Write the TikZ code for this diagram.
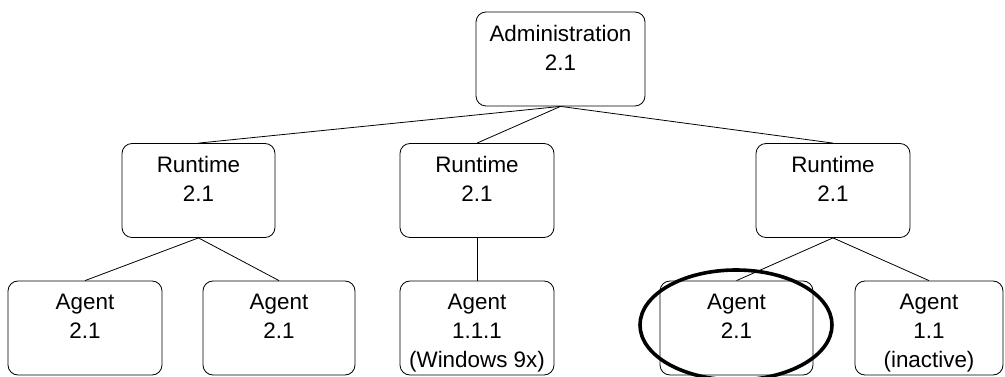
\documentclass[tikz,border=0pt]{standalone}
\usepackage{fontspec}
\setmainfont{Liberation Sans}
\usetikzlibrary{shapes.geometric}

% lines of a box, set from the top of a fixed-height area
\newcommand\boxlines[2]{\vbox to 68pt{\hsize=#1\parindent=0pt\centering #2\par\vfil}}

\tikzset{
  unit/.style={draw, rounded corners=10pt, line width=0.8pt,
    inner xsep=0pt, inner ysep=13pt,
    font=\fontsize{22.4}{29}\selectfont},
  link/.style={line width=0.8pt},
  mark ring/.style={draw, ellipse, line width=3.6pt,
    minimum width=192pt, minimum height=110pt, inner sep=0pt}
}

\begin{document}
\begin{tikzpicture}[x=1pt, y=-1pt]
  \useasboundingbox (0,0) rectangle (1005,377);

  % top level
  \node[unit] (adm) at (560.5,59) {\boxlines{169pt}{Administration\\2.1}};

  % runtimes
  \node[unit] (rt1) at (198.5,190.5) {\boxlines{153pt}{Runtime\\2.1}};
  \node[unit] (rt2) at (477,190.5)   {\boxlines{154pt}{Runtime\\2.1}};
  \node[unit] (rt3) at (833,190.5)   {\boxlines{154pt}{Runtime\\2.1}};

  % agents
  \node[unit] (ag1) at (85,328)    {\boxlines{154pt}{Agent\\2.1}};
  \node[unit] (ag2) at (279,328)   {\boxlines{152pt}{Agent\\2.1}};
  \node[unit] (ag3) at (477,328)   {\boxlines{154pt}{Agent\\1.1.1\\(Windows 9x)}};
  \node[unit] (ag4) at (736.5,328) {\boxlines{153pt}{Agent\\2.1}};
  \node[unit] (ag5) at (929,328)   {\boxlines{148pt}{Agent\\1.1\\(inactive)}};

  % tree links
  \draw[link] (adm.south) -- (rt1.north);
  \draw[link] (adm.south) -- (rt2.north);
  \draw[link] (adm.south) -- (rt3.north);
  \draw[link] (rt1.south) -- (ag1.north);
  \draw[link] (rt1.south) -- (ag2.north);
  \draw[link] (rt2.south) -- (ag3.north);
  \draw[link] (rt3.south) -- (ag4.north);
  \draw[link] (rt3.south) -- (ag5.north);

  % highlight ring round one agent
  \node[mark ring] (ring) at (736,325) {};
\end{tikzpicture}
\end{document}
